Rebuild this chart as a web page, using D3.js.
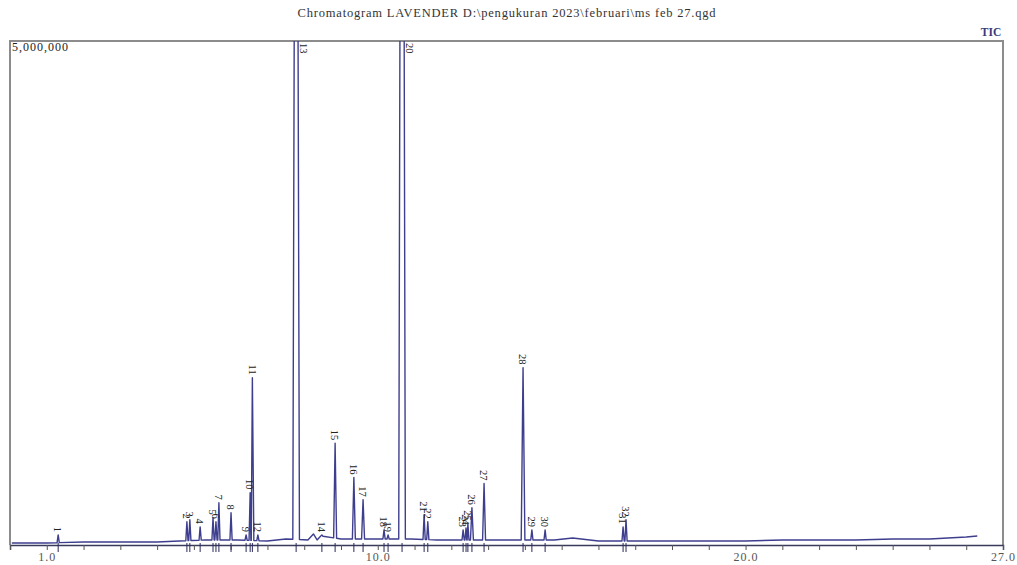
<!DOCTYPE html>
<html lang="en">
<head>
    <meta charset="UTF-8">
    <script src="https://d3js.org/d3.v7.min.js"></script>
    <title>Chromatogram LAVENDER</title>
    <style>
        html,
        body {
            margin: 0px;
            padding: 0px;
            background-color: #ffffff;
            font-family: "Liberation Serif", "DejaVu Serif", serif;
        }
    </style>
</head>
<body>
    <div id='chart'></div>
    <script>

        // peak number, retention time (min), intensity (counts)
        const peakNo   = [1, 2, 3, 4, 5, 6, 7, 8, 9, 10, 11, 12, 13, 14, 15, 16,
                          17, 18, 19, 20, 21, 22, 23, 24, 25, 26, 27, 28, 29, 30, 31, 32];
        const peakTime = [1.31, 4.81, 4.89, 5.17, 5.52, 5.60, 5.68, 6.01, 6.42, 6.53, 6.59, 6.74,
                          7.78, 8.48, 8.84, 9.35, 9.60, 10.17, 10.28, 10.66, 11.26, 11.36,
                          12.32, 12.40, 12.45, 12.56, 12.89, 13.95, 14.19, 14.55, 16.67, 16.75];
        const peakHeight = [0.10e6, 0.23e6, 0.25e6, 0.18e6, 0.27e6, 0.23e6, 0.42e6, 0.32e6,
                            0.10e6, 0.52e6, 1.66e6, 0.10e6, 12.0e6, 0.10e6, 1.01e6, 0.67e6,
                            0.45e6, 0.15e6, 0.10e6, 14.0e6, 0.30e6, 0.23e6, 0.15e6, 0.17e6,
                            0.21e6, 0.37e6, 0.61e6, 1.76e6, 0.15e6, 0.15e6, 0.18e6, 0.25e6];
        const peakHalfWidth = [0.03, 0.03, 0.03, 0.03, 0.03, 0.03, 0.03, 0.03, 0.03, 0.03, 0.04, 0.03,
                               0.09, 0.03, 0.04, 0.04, 0.04, 0.03, 0.03, 0.09, 0.03, 0.03,
                               0.03, 0.03, 0.03, 0.04, 0.04, 0.05, 0.03, 0.03, 0.03, 0.03];

        // baseline of the TIC trace
        const baseTime = [0.05, 1.0, 2.0, 3.0, 4.0, 4.6, 5.3, 6.2, 7.0, 7.5, 8.1, 8.25, 8.35, 8.45,
                          9.0, 9.9, 10.9, 11.6, 12.0, 13.0, 13.6, 14.8, 15.3, 16.0, 17.0, 18.0,
                          19.0, 20.0, 21.0, 22.0, 23.0, 24.0, 25.0, 26.0, 26.3];
        const baseInt  = [0.02e6, 0.02e6, 0.03e6, 0.03e6, 0.03e6, 0.04e6, 0.05e6, 0.05e6, 0.04e6,
                          0.06e6, 0.05e6, 0.11e6, 0.05e6, 0.09e6, 0.06e6, 0.06e6, 0.06e6, 0.05e6,
                          0.05e6, 0.05e6, 0.05e6, 0.05e6, 0.07e6, 0.04e6, 0.04e6, 0.04e6, 0.04e6,
                          0.04e6, 0.05e6, 0.05e6, 0.05e6, 0.06e6, 0.06e6, 0.08e6, 0.09e6];

        const xTickLabels = [1.0, 10.0, 20.0, 27.0];
        const yMax = 5000000;
        const title = 'Chromatogram LAVENDER D:\\pengukuran 2023\\februari\\ms feb 27.qgd';

        let width = 1017;
        let height = 565;
        let plotLeft = 10, plotRight = 1003, plotTop = 41, plotBottom = 545;

        let svg = d3.select('#chart').append('svg').attr('width', width).attr('height', height);

        let x = d3.scaleLinear().domain([0, 27]).range([plotLeft, plotRight]);
        let y = d3.scaleLinear().domain([0, yMax]).range([plotBottom, plotTop]);
        let baseAt = d3.scaleLinear().domain(baseTime).range(baseInt).clamp(true);

        // title and labels
        svg.append('text')
            .attr('x', 507).attr('y', 17)
            .attr('text-anchor', 'middle')
            .attr('font-size', '12.5px')
            .attr('letter-spacing', '0.8px')
            .attr('fill', '#333')
            .text(title);

        svg.append('text')
            .attr('x', 991).attr('y', 36)
            .attr('text-anchor', 'middle')
            .attr('font-size', '11.5px')
            .attr('font-weight', 'bold')
            .attr('fill', '#3a3a7a')
            .text('TIC');

        // frame
        svg.append('path')
            .attr('d', `M${plotLeft},${plotBottom} V${plotTop} H${plotRight} V${plotBottom}`)
            .attr('fill', 'none')
            .attr('stroke', '#8c8c8c')
            .attr('stroke-width', 2);

        svg.append('text')
            .attr('x', 12).attr('y', 51)
            .attr('font-size', '12px')
            .attr('letter-spacing', '1px')
            .attr('fill', '#222')
            .text(d3.format(',')(yMax));

        // trace points
        let pts = baseTime.map((t, i) => [t, baseInt[i]]);
        peakTime.forEach((t, i) => {
            let w = peakHalfWidth[i];
            pts.push([t - w, baseAt(t - w)]);
            pts.push([t, peakHeight[i]]);
            pts.push([t + w, baseAt(t + w)]);
        });
        pts.sort((a, b) => a[0] - b[0]);

        svg.append('clipPath').attr('id', 'clip')
            .append('rect')
            .attr('x', plotLeft).attr('y', plotTop)
            .attr('width', plotRight - plotLeft).attr('height', plotBottom - plotTop);

        let line = d3.line().x(d => x(d[0])).y(d => y(d[1]));

        svg.append('path')
            .datum(pts)
            .attr('clip-path', 'url(#clip)')
            .attr('d', line)
            .attr('fill', 'none')
            .attr('stroke', '#3e3e8e')
            .attr('stroke-width', 1.4)
            .attr('stroke-linejoin', 'round');

        // x axis
        let axis = d3.axisBottom(x)
            .tickValues(d3.range(0, 28, 1))
            .tickSize(5)
            .tickFormat(d => xTickLabels.includes(d) ? d3.format('.1f')(d) : '');

        let gx = svg.append('g')
            .attr('transform', `translate(0,${plotBottom})`)
            .call(axis);
        gx.select('.domain').attr('stroke', '#3a3a5a').attr('stroke-width', 1.5);
        gx.selectAll('.tick line').attr('stroke', '#555');
        gx.selectAll('.tick text')
            .attr('font-family', '"Liberation Serif", serif')
            .attr('font-size', '12px')
            .attr('fill', '#555')
            .attr('letter-spacing', '1px')
            .attr('dy', '0.7em');

        // peak markers below the axis
        svg.append('g').selectAll('line')
            .data(peakTime)
            .join('line')
            .attr('x1', d => x(d)).attr('x2', d => x(d))
            .attr('y1', plotBottom - 2).attr('y2', plotBottom + 7)
            .attr('stroke', '#2a2a5a')
            .attr('stroke-width', 1);

        // peak labels
        svg.append('g').selectAll('text')
            .data(peakNo)
            .join('text')
            .attr('transform', (d, i) => {
                let h = peakHeight[i];
                if (h > yMax) {
                    return `translate(${x(peakTime[i]) + 8},${plotTop + 2}) rotate(90)`;
                }
                return `translate(${x(peakTime[i])},${y(h) - 3}) rotate(90)`;
            })
            .attr('text-anchor', (d, i) => peakHeight[i] > yMax ? 'start' : 'end')
            .attr('dy', '0.35em')
            .attr('font-size', '10.5px')
            .attr('fill', '#222')
            .text(d => d);

    </script>
</body>
</html>
